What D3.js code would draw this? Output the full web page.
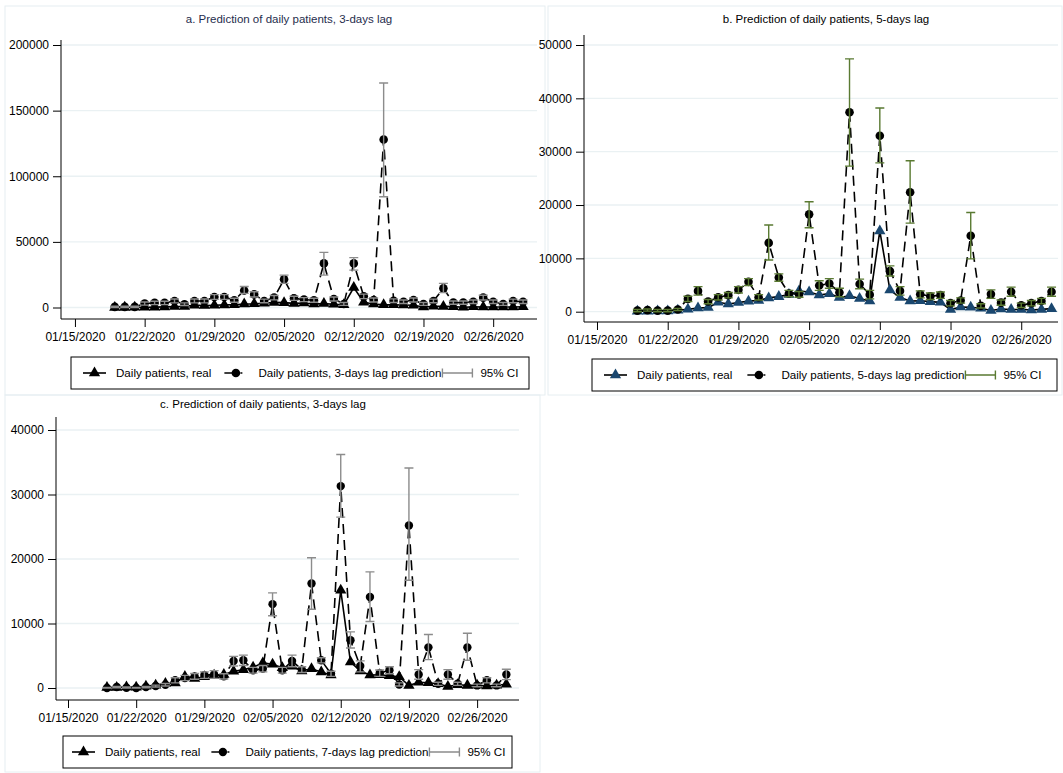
<!DOCTYPE html>
<html><head><meta charset="utf-8">
<script src="https://cdn.jsdelivr.net/npm/d3@7"></script>
<style>
body{margin:0;background:#fff;}
svg{display:block;font-family:"Liberation Sans",Arial,sans-serif;}
</style>
</head><body>
<svg id="chart" width="1063" height="773"></svg>
<script>
// Observation dates (one per day)
const dates = ["01/19/2020","01/20/2020","01/21/2020","01/22/2020","01/23/2020","01/24/2020","01/25/2020","01/26/2020","01/27/2020","01/28/2020","01/29/2020","01/30/2020","01/31/2020",
  "02/01/2020","02/02/2020","02/03/2020","02/04/2020","02/05/2020","02/06/2020","02/07/2020","02/08/2020","02/09/2020","02/10/2020","02/11/2020","02/12/2020","02/13/2020","02/14/2020",
  "02/15/2020","02/16/2020","02/17/2020","02/18/2020","02/19/2020","02/20/2020","02/21/2020","02/22/2020","02/23/2020","02/24/2020","02/25/2020","02/26/2020","02/27/2020","02/28/2020","02/29/2020"];

// Reported daily patients
const realCases = [77,93,149,131,259,444,688,769,1771,1459,1737,1981,2099,
  2589,2825,3233,3886,3694,3143,3385,2652,2973,2467,2015,15151,4047,2641,
  2008,2048,1888,1749,391,889,823,648,214,508,406,433,327,427,573];

// a. 3-days lag prediction and 95% CI
const predA = [500,500,500,3000,3500,3500,5000,2500,5000,5000,8000,8000,5500,13000,10000,5000,7500,21500,7000,6000,5500,33600,6500,2700,33600,8500,5700,128000,5200,4400,5700,2700,5000,14600,3700,3700,4400,7500,4400,2700,5000,4400];
const loA   = [0,0,0,1800,2200,2200,3500,1500,3500,3500,6200,6200,4000,10800,8000,3600,5800,18400,5400,4500,4000,24700,5000,1600,28500,6800,4200,84400,3800,3100,4200,1600,3600,11300,2500,2500,3100,5700,3100,1600,3600,3100];
const hiA   = [1000,1000,1000,4200,4800,4800,6500,3500,6500,6500,9800,9800,7000,16000,12000,6400,9200,24700,8600,7500,7000,42000,8000,3800,38000,10200,7200,171000,6600,5700,7200,3800,6400,18400,4900,4900,5700,9300,5700,3800,6400,5700];

// b. 5-days lag prediction and 95% CI
const predB = [200,300,200,200,400,2400,3900,1900,2700,3100,4100,5600,2700,12900,6400,3400,3250,18250,4900,5300,3600,37400,5200,3200,33000,7600,3900,22400,3250,2900,3100,1600,2100,14250,1100,3300,1700,3750,1200,1600,2000,3750];
const loB   = [0,100,0,0,200,1900,3100,1500,2200,2600,3500,4900,2200,9700,5700,2800,2700,15750,4000,4400,2800,27300,4300,2400,27900,6700,3100,16600,2600,2300,2500,1100,1600,9900,700,2500,1200,2900,800,1100,1500,2900];
const hiB   = [400,500,400,400,600,2900,4700,2300,3200,3600,4700,6200,3200,16250,7100,4000,3800,20600,5800,6200,4400,47400,6100,4000,38200,8600,4700,28300,3900,3500,3700,2100,2600,18600,1500,4100,2200,4600,1600,2100,2500,4600];

// c. 7-days lag prediction and 95% CI
const predC = [0,150,50,0,150,300,500,1200,1550,1800,2000,2100,1800,4200,4300,2750,3000,13000,2750,4200,2850,16200,4300,2200,31300,7400,3400,14100,2300,2750,550,25200,2100,6300,650,2100,650,6300,400,1200,400,2100];
const loC   = [0,50,0,0,50,150,300,800,1150,1350,1500,1500,1400,3400,3500,2300,2500,11200,2300,3300,2400,12200,3900,1800,26500,6200,2500,10300,1800,2200,300,16700,1350,4400,400,1350,400,4300,200,800,200,1300];
const hiC   = [100,250,150,100,250,450,700,1600,1950,2250,2500,2700,2200,4900,5100,3200,3500,14750,3200,5100,3300,20200,4700,2600,36200,8700,4200,18000,2800,3300,800,34100,2850,8300,900,2850,900,8500,600,1600,600,2900];

// Axis ticks
const xTickLabels = ["01/15/2020","01/22/2020","01/29/2020","02/05/2020","02/12/2020","02/19/2020","02/26/2020"];
const yTicksA = [0,50000,100000,150000,200000];
const yTicksB = [0,10000,20000,30000,40000,50000];
const yTicksC = [0,10000,20000,30000,40000];

const titles = ["a. Prediction of daily patients, 3-days lag",
                "b. Prediction of daily patients, 5-days lag",
                "c. Prediction of daily patients, 3-days lag"];
const legendLabels = [
  ["Daily patients, real","Daily patients, 3-days lag prediction","95% CI"],
  ["Daily patients, real","Daily patients, 5-days lag prediction","95% CI"],
  ["Daily patients, real","Daily patients, 7-days lag prediction","95% CI"]];

const parse = d3.utcParse("%m/%d/%Y");
const DAY = 864e5;
const t0 = parse("01/15/2020").getTime();
const FONT = '"Liberation Sans",Arial,sans-serif';

const svg = d3.select("#chart");

function panel(cfg) {
  const g = svg.append("g");
  // outer frame of the sub-graph
  g.append("rect").attr("x", cfg.frame[0]).attr("y", cfg.frame[1])
    .attr("width", cfg.frame[2]).attr("height", cfg.frame[3])
    .attr("fill", "none").attr("stroke", "#e6eef1").attr("stroke-width", 1);

  const x = d3.scaleUtc()
    .domain([new Date(t0 + cfg.dayLo * DAY), new Date(t0 + cfg.dayHi * DAY)])
    .range([cfg.left, cfg.right]);
  const y = d3.scaleLinear().domain([0, cfg.yMax]).range([cfg.y0, cfg.yTop]);

  // gridlines
  g.append("g").selectAll("line").data(cfg.yTicks).join("line")
    .attr("x1", cfg.left).attr("x2", cfg.right)
    .attr("y1", d => y(d)).attr("y2", d => y(d))
    .attr("stroke", "#eaf1f3").attr("stroke-width", 1.3);

  // y axis
  const yAxis = d3.axisLeft(y).tickValues(cfg.yTicks).tickFormat(d3.format("d"))
    .tickSize(8).tickPadding(4);
  const ya = g.append("g").attr("transform", `translate(${cfg.left},0)`).call(yAxis);
  ya.select(".domain").remove();
  ya.append("line").attr("x1", 0).attr("x2", 0).attr("y1", cfg.axisTop).attr("y2", cfg.axisY)
    .attr("stroke", "#000").attr("stroke-width", 1);
  ya.selectAll(".tick text").attr("font-size", 12).attr("fill", "#000").attr("font-family", FONT);
  ya.selectAll(".tick line").attr("stroke", "#000");

  // x axis
  const xAxis = d3.axisBottom(x).tickValues(xTickLabels.map(parse))
    .tickFormat(d3.utcFormat("%m/%d/%Y")).tickSize(8).tickPadding(5);
  const xa = g.append("g").attr("transform", `translate(0,${cfg.axisY})`).call(xAxis);
  xa.select(".domain").remove();
  xa.append("line").attr("x1", cfg.left).attr("x2", cfg.right).attr("y1", 0).attr("y2", 0)
    .attr("stroke", "#000").attr("stroke-width", 1);
  xa.selectAll(".tick text").attr("font-size", 12).attr("fill", "#000").attr("font-family", FONT);
  xa.selectAll(".tick line").attr("stroke", "#000");

  // title
  g.append("text").attr("x", cfg.titleX).attr("y", cfg.titleY)
    .attr("text-anchor", "middle").attr("font-size", 11.5).attr("fill", cfg.titleColor)
    .text(cfg.title);

  const rows = dates.map((d, i) => ({
    date: parse(d), real: realCases[i], pred: cfg.pred[i], lo: cfg.lo[i], hi: cfg.hi[i]
  }));

  // real series
  g.append("path").datum(rows)
    .attr("d", d3.line().x(d => x(d.date)).y(d => y(d.real)))
    .attr("fill", "none").attr("stroke", cfg.realLine).attr("stroke-width", 1.6);
  const tri = d3.symbol().type(d3.symbolTriangle).size(cfg.triSize);
  g.append("g").selectAll("path").data(rows).join("path")
    .attr("d", tri).attr("transform", d => `translate(${x(d.date)},${y(d.real)})`)
    .attr("fill", cfg.realMarker);

  // prediction series
  g.append("path").datum(rows)
    .attr("d", d3.line().x(d => x(d.date)).y(d => y(d.pred)))
    .attr("fill", "none").attr("stroke", "#000").attr("stroke-width", 1.6)
    .attr("stroke-dasharray", "10,6");
  g.append("g").selectAll("circle").data(rows).join("circle")
    .attr("cx", d => x(d.date)).attr("cy", d => y(d.pred)).attr("r", cfg.dotR)
    .attr("fill", "#000");

  // 95% CI caps
  const ci = g.append("g").attr("stroke", cfg.ciColor).attr("stroke-width", 1.4).attr("fill", "none");
  ci.selectAll("path").data(rows).join("path")
    .attr("d", d => {
      const cx = x(d.date), a = y(d.lo), b = y(d.hi), w = 4.5;
      return `M${cx},${a}V${b}M${cx - w},${a}H${cx + w}M${cx - w},${b}H${cx + w}`;
    });

  // legend: keys are placed after the measured label widths
  const L = cfg.legend;
  const lg = g.append("g").attr("transform", `translate(${L.x},${L.y})`);
  const box = lg.append("rect").attr("x", 0).attr("y", 0).attr("height", L.h)
    .attr("fill", "#fff").attr("stroke", "#000").attr("stroke-width", 1);
  const my = L.h / 2;
  const labs = cfg.legendLabels;
  const addText = (tx, s) => lg.append("text").attr("x", tx).attr("y", my + 4.2)
    .attr("font-size", 11.6).attr("fill", "#000").attr("font-family", FONT).text(s);

  const k1 = L.k1, t1 = k1 + 33;
  lg.append("line").attr("x1", k1).attr("x2", k1 + 23).attr("y1", my).attr("y2", my)
    .attr("stroke", cfg.realLine).attr("stroke-width", 1.6);
  lg.append("path").attr("d", tri).attr("transform", `translate(${k1 + 11.5},${my})`)
    .attr("fill", cfg.realMarker);
  const w1 = addText(t1, labs[0]).node().getComputedTextLength();

  const k2 = t1 + w1 + L.gap, t2 = k2 + 34;
  lg.append("line").attr("x1", k2).attr("x2", k2 + 20).attr("y1", my).attr("y2", my)
    .attr("stroke", "#000").attr("stroke-width", 1.6).attr("stroke-dasharray", "8,8,2,10");
  lg.append("circle").attr("cx", k2 + 11.5).attr("cy", my).attr("r", cfg.dotR).attr("fill", "#000");
  const w2 = addText(t2, labs[1]).node().getComputedTextLength();

  const k3 = t2 + w2 + 1, t3 = k3 + 38;
  lg.append("path").attr("d", `M${k3},${my}H${k3 + 30}M${k3},${my - 4.5}V${my + 4.5}M${k3 + 30},${my - 4.5}V${my + 4.5}`)
    .attr("stroke", cfg.ciColor).attr("stroke-width", 1.4).attr("fill", "none");
  const w3 = addText(t3, labs[2]).node().getComputedTextLength();
  box.attr("width", Math.max(L.w, t3 + w3 + 6));
}

panel({
  frame: [5, 6, 540, 389],
  left: 61, right: 537, dayLo: -1.4, dayHi: 46.4,
  yMax: 200000, y0: 307.5, yTop: 45, axisTop: 40, axisY: 319,
  yTicks: yTicksA, title: titles[0], titleX: 289, titleY: 23, titleColor: "#1f2d4d",
  pred: predA, lo: loA, hi: hiA,
  realLine: "#000", realMarker: "#000", ciColor: "#8c8c8c", triSize: 55, dotR: 4.3,
  legendLabels: legendLabels[0],
  legend: {x: 71, y: 357, w: 458, h: 32, k1: 12, gap: 13}
});

panel({
  frame: [548, 6, 514, 389],
  left: 584, right: 1058, dayLo: -1.287, dayHi: 45.64,
  yMax: 50000, y0: 311.7, yTop: 45, axisTop: 35, axisY: 322,
  yTicks: yTicksB, title: titles[1], titleX: 826, titleY: 23, titleColor: "#000",
  pred: predB, lo: loB, hi: hiB,
  realLine: "#000", realMarker: "#1a476f", ciColor: "#5a7a32", triSize: 55, dotR: 4.3,
  legendLabels: legendLabels[1],
  legend: {x: 592, y: 359, w: 465, h: 32, k1: 12, gap: 15}
});

panel({
  frame: [5, 395, 535, 377],
  left: 56, right: 519, dayLo: -1.232, dayHi: 46.3,
  yMax: 40000, y0: 688, yTop: 430, axisTop: 417, axisY: 700,
  yTicks: yTicksC, title: titles[2], titleX: 263, titleY: 408, titleColor: "#000",
  pred: predC, lo: loC, hi: hiC,
  realLine: "#000", realMarker: "#000", ciColor: "#8c8c8c", triSize: 55, dotR: 4.2,
  legendLabels: legendLabels[2],
  legend: {x: 63, y: 736, w: 449, h: 32, k1: 9, gap: 11}
});
</script>
</body></html>
